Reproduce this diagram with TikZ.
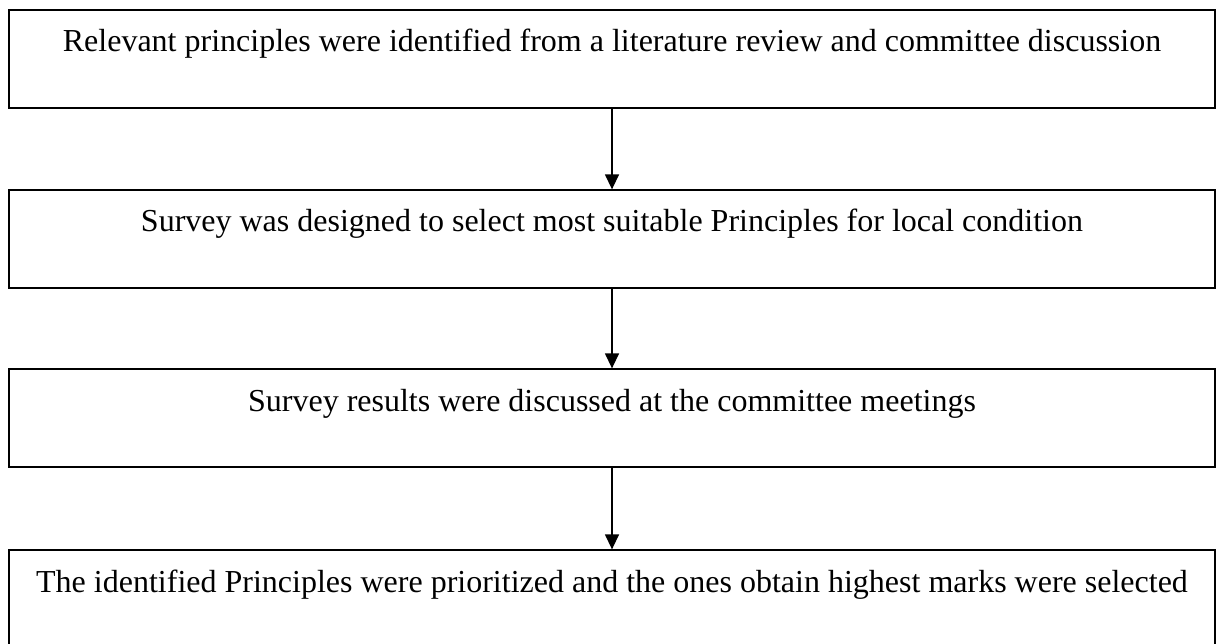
\documentclass[tikz,border=0pt]{standalone}
\usepackage{fontspec}
\setmainfont{Liberation Serif}
\usetikzlibrary{arrows.meta}
\begin{document}
\begin{tikzpicture}[x=1pt,y=1pt,
  stepbox/.style={draw=black, line width=1.3pt, rectangle, inner sep=0pt,
    minimum width=1206pt, text height=42pt, text depth=56pt,
    font=\fontsize{32}{38}\selectfont},
  flow/.style={line width=1.4pt, -{Triangle[length=15pt,width=14pt]}}]
\clip (0,0) rectangle (1222,-644);
\node[stepbox] (b1) at (612,-59) {Relevant principles were identified from a literature review and committee discussion};
\node[stepbox] (b2) at (612,-239) {Survey was designed to select most suitable Principles for local condition};
\node[stepbox] (b3) at (612,-418) {Survey results were discussed at the committee meetings};
\node[stepbox] (b4) at (612,-599) {The identified Principles were prioritized and the ones obtain highest marks were selected};
\draw[flow] (b1.south) -- (b2.north);
\draw[flow] (b2.south) -- (b3.north);
\draw[flow] (b3.south) -- (b4.north);
\end{tikzpicture}
\end{document}
